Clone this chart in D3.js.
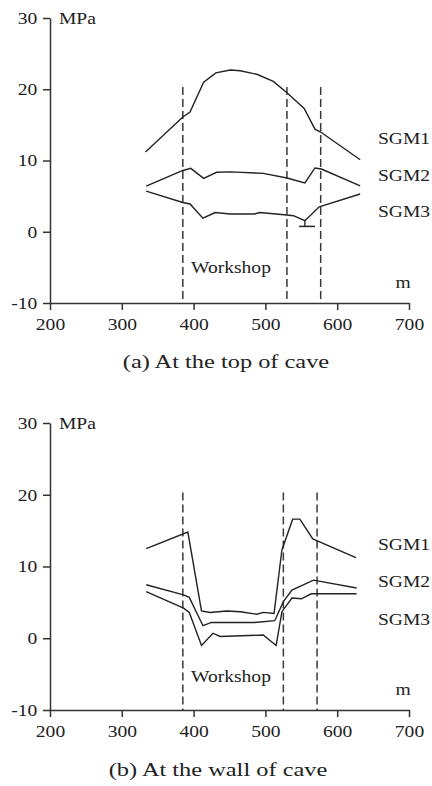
<!DOCTYPE html>
<html>
<head>
<meta charset="utf-8">
<script src="https://cdn.jsdelivr.net/npm/d3@7"></script>
<style>
  body { margin: 0; background: #fff; }
  text { font-family: "Liberation Serif", "Times New Roman", serif; fill: #222; }
</style>
</head>
<body>
<div id="chart"></div>
<script>
// distance along the line (m) and ground stress (MPa)
const topSGM1 = [[333, 11.2], [385, 16.1], [395, 16.8], [414, 21.0], [431, 22.3], [451, 22.7], [465, 22.6],
    [488, 22.1], [511, 21.1], [530, 19.5], [554, 17.3], [569, 14.4], [577, 14.0], [632, 10.1]];
const topSGM2 = [[334, 6.4], [385, 8.6], [396, 8.9], [414, 7.5], [432, 8.35], [451, 8.4], [497, 8.2],
    [530, 7.55], [555, 6.85], [569, 8.95], [578, 8.8], [632, 6.45]];
const topSGM3 = [[334, 5.7], [385, 4.1], [395, 3.9], [413, 1.9], [430, 2.7], [451, 2.5], [485, 2.5],
    [492, 2.7], [530, 2.35], [539, 2.25], [555, 1.55], [575, 3.5], [632, 5.3]];

const wallSGM1 = [[334, 12.5], [392, 14.8], [411, 3.8], [423, 3.6], [446, 3.8], [465, 3.7], [488, 3.35],
    [497, 3.6], [512, 3.45], [523, 12.3], [538, 16.6], [548, 16.6], [566, 13.85], [626, 11.25]];
const wallSGM2 = [[334, 7.45], [386, 6.05], [394, 5.7], [413, 1.75], [425, 2.2], [485, 2.2], [513, 2.45],
    [525, 5.1], [537, 6.7], [567, 8.1], [627, 7.0]];
const wallSGM3 = [[334, 6.5], [386, 4.2], [394, 3.6], [411, -1.0], [427, 0.7], [437, 0.25], [497, 0.45],
    [515, -1.0], [523, 3.7], [537, 5.6], [550, 5.5], [564, 6.2], [627, 6.2]];

const topDash = [385, 530, 577];
const wallDash = [385, 525, 572];
const dashTop = 20.3;

// small bar under the SGM3 dip in (a)
const topMarkX = [547, 569];
const topMarkY = 0.75;
const topMarkAt = [555, 1.55];

const xTicks = [200, 300, 400, 500, 600, 700];
const yTicks = [-10, 0, 10, 20, 30];
const seriesNames = ['SGM1', 'SGM2', 'SGM3'];

const width = 432, height = 786;
const stretch = 1.15; // the figure's type is a little wide

const svg = d3.select('#chart').append('svg')
    .attr('width', width)
    .attr('height', height);

function label(g, x, y, s, size, anchor, sx) {
    return g.append('text')
        .attr('transform', `translate(${x},${y}) scale(${sx || stretch},1)`)
        .attr('font-size', size)
        .attr('text-anchor', anchor || 'start')
        .text(s);
}

function panel(opts) {
    const x = d3.scaleLinear().domain([200, 700]).range([50, 409]);
    const y = d3.scaleLinear().domain([-10, 30]).range([opts.bottom, opts.top]);
    const g = svg.append('g');

    // dashed workshop boundaries
    g.selectAll('.dash')
        .data(opts.dash)
        .enter()
        .append('line')
        .attr('x1', d => x(d)).attr('x2', d => x(d))
        .attr('y1', y(dashTop)).attr('y2', y(-10))
        .attr('stroke', '#3a3a3a')
        .attr('stroke-width', 1.5)
        .attr('stroke-dasharray', '8,4');

    const line = d3.line().x(d => x(d[0])).y(d => y(d[1]));
    g.selectAll('.series')
        .data(opts.series)
        .enter()
        .append('path')
        .attr('d', line)
        .attr('fill', 'none')
        .attr('stroke', '#222')
        .attr('stroke-width', 1.4);

    if (opts.mark) {
        g.append('line')
            .attr('x1', x(topMarkAt[0])).attr('x2', x(topMarkAt[0]))
            .attr('y1', y(topMarkAt[1])).attr('y2', y(topMarkY))
            .attr('stroke', '#222').attr('stroke-width', 1.3);
        g.append('line')
            .attr('x1', x(topMarkX[0])).attr('x2', x(topMarkX[1]))
            .attr('y1', y(topMarkY)).attr('y2', y(topMarkY))
            .attr('stroke', '#222').attr('stroke-width', 1.5);
    }

    // axes (plain hyphen for negatives, as in the figure)
    const fmt = d => String(d);
    const gx = g.append('g')
        .attr('transform', `translate(0,${opts.bottom})`)
        .call(d3.axisBottom(x).tickValues(xTicks).tickFormat(fmt).tickSize(7).tickPadding(8).tickSizeOuter(0));
    const gy = g.append('g')
        .attr('transform', 'translate(50,0)')
        .call(d3.axisLeft(y).tickValues(yTicks).tickFormat(fmt).tickSize(7).tickPadding(4).tickSizeOuter(0));
    [gx, gy].forEach(a => {
        a.selectAll('path, line').attr('stroke', '#333').attr('stroke-width', 1.5);
        a.selectAll('text')
            .attr('font-size', 17)
            .attr('font-family', '"Liberation Serif", "Times New Roman", serif')
            .attr('fill', '#222')
            .attr('transform', `scale(${stretch},1)`);
    });

    label(g, 59, y(30) + 6, 'MPa', 17);
    label(g, 403, opts.bottom - 15, 'm', 17, 'middle');
    label(g, 231, opts.workshopY, 'Workshop', 17, 'middle');
    seriesNames.forEach((s, i) => label(g, 378, opts.nameY[i], s, 17));
    label(g, opts.captionX, opts.captionY, opts.caption, 19.5, 'middle', 1.25);
}

panel({
    top: 18, bottom: 303,
    series: [topSGM1, topSGM2, topSGM3],
    dash: topDash,
    mark: true,
    nameY: [144, 181, 217],
    workshopY: 273,
    caption: '(a) At the top of cave',
    captionX: 226, captionY: 368
});

panel({
    top: 423, bottom: 710,
    series: [wallSGM1, wallSGM2, wallSGM3],
    dash: wallDash,
    mark: false,
    nameY: [550, 587, 625],
    workshopY: 682,
    caption: '(b) At the wall of cave',
    captionX: 218, captionY: 776
});
</script>
</body>
</html>
